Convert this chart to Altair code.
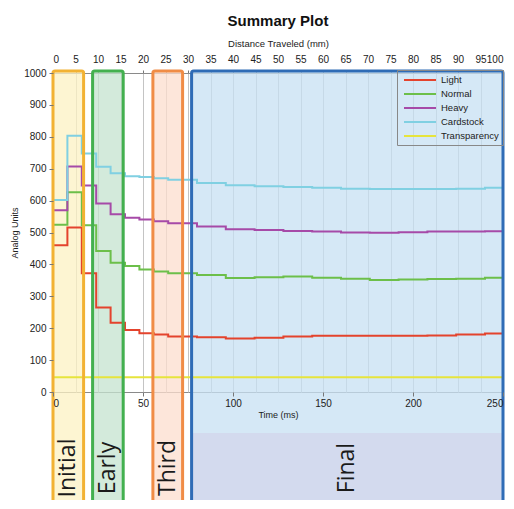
import altair as alt
import pandas as pd

# ---------------- data ----------------
materials = ["Light", "Normal", "Heavy", "Cardstock", "Transparency"]
line_colors = ["#e4432d", "#6cbf4a", "#a64aa8", "#80d0e2", "#e6e43c"]

time_ms = [0, 8, 16, 24, 32, 40, 48, 56, 64, 80, 96, 112, 128, 144, 160,
           176, 192, 208, 224, 240, 250]
light = [460, 516, 372, 265, 217, 194, 184, 180, 174, 172, 168, 170, 174,
         176, 176, 176, 176, 177, 180, 183, 183]
normal = [524, 626, 523, 442, 405, 395, 384, 378, 372, 367, 357, 360, 362,
          358, 355, 351, 353, 354, 355, 358, 358]
heavy = [570, 707, 647, 591, 557, 546, 541, 535, 529, 519, 510, 508, 505,
         503, 500, 499, 501, 503, 503, 504, 504]
cardstock = [602, 803, 748, 706, 686, 676, 674, 670, 665, 655, 648, 645, 643,
             640, 637, 636, 636, 636, 637, 640, 640]
transparency = [46, 46, 46, 46, 46, 46, 46, 46, 46, 46, 46, 46, 46,
                46, 46, 46, 46, 46, 46, 46, 46]

distance_mm = [0, 5, 10, 15, 20, 25, 30, 35, 40, 45, 50, 55, 60, 65, 70,
               75, 80, 85, 90, 95, 100]
time_ticks = [0, 50, 100, 150, 200, 250]
y_ticks = [0, 100, 200, 300, 400, 500, 600, 700, 800, 900, 1000]

region_names = ["Initial", "Early", "Third", "Final"]
region_start = [0, 22, 55.5, 77]
region_end = [17, 39, 72, 250]
region_fill = ["#fcf2c3", "#c4e3cf", "#fcdece", "#c7e0f3"]
region_stroke = ["#f2b233", "#43b04f", "#f08c46", "#2f6cb6"]

# ---------------- tables ----------------
rows = []
for name, vals in zip(materials, [light, normal, heavy, cardstock, transparency]):
    for t, v in zip(time_ms, vals):
        rows.append({"time": t, "value": v, "material": name})
lines_df = pd.DataFrame(rows)

regions_df = pd.DataFrame({
    "label": region_names,
    "start": region_start,
    "end": region_end,
    "mid": [(a + b) / 2 for a, b in zip(region_start, region_end)],
    "fill": region_fill,
    "stroke": region_stroke,
})

W, H = 450, 319
FONT = "Liberation Sans"
x_scale = alt.Scale(domain=[0, 250], nice=False, zero=False)
y_scale = alt.Scale(domain=[0, 1000], nice=False)

mm_in_ms = [d * 2.5 for d in distance_mm]

# fills (carry the top "distance" axis with its grid)
fills = alt.Chart(regions_df).mark_rect(fillOpacity=0.75).encode(
    x=alt.X("start:Q", scale=x_scale,
            axis=alt.Axis(orient="top", values=mm_in_ms,
                          labelExpr="format(datum.value / 2.5, 'd')",
                          title="Distance Traveled (mm)", grid=True,
                          gridColor="#c4c4c4", gridWidth=1, domain=False,
                          tickSize=3, tickColor="#777", labelPadding=6,
                          labelFontSize=10, titleFontSize=9.5,
                          titleFontWeight="normal", titlePadding=6,
                          labelFont=FONT, titleFont=FONT, labelColor="#222",
                          titleColor="#222")),
    x2="end:Q",
    y=alt.value(-2),
    y2=alt.value(H + 115),
    fill=alt.Fill("fill:N", scale=None),
)

final_lower = alt.Chart(regions_df).transform_filter(
    alt.datum.label == "Final"
).mark_rect(fill="#d3daee").encode(
    x=alt.X("start:Q", scale=x_scale, axis=None),
    x2="end:Q",
    y=alt.value(H + 41),
    y2=alt.value(H + 115),
)

lines = alt.Chart(lines_df).mark_line(interpolate="step-after", strokeWidth=2).encode(
    x=alt.X("time:Q", scale=x_scale,
            axis=alt.Axis(orient="bottom", values=time_ticks, title="Time (ms)",
                          grid=False, domain=False, tickSize=4, tickColor="#777",
                          labelPadding=2, labelFontSize=10, titleFontSize=9,
                          titleFontWeight="normal", titlePadding=2,
                          labelFont=FONT, titleFont=FONT, labelColor="#222",
                          titleColor="#222", zindex=2)),
    y=alt.Y("value:Q", scale=y_scale,
            axis=alt.Axis(values=y_ticks, format="d", title="Analog Units",
                          grid=False, domain=False, tickSize=4,
                          tickColor="#777", labelPadding=3, labelFontSize=10,
                          titleFontSize=9, titleFontWeight="normal",
                          titlePadding=4, labelFont=FONT, titleFont=FONT,
                          labelColor="#222", titleColor="#222", zindex=2)),
    color=alt.Color("material:N",
                    scale=alt.Scale(domain=materials, range=line_colors),
                    sort=materials,
                    legend=alt.Legend(title=None, orient="none", legendX=344,
                                      legendY=-3,
                                      symbolType="M-3.2,0H3.2",
                                      symbolSize=100, symbolStrokeWidth=2,
                                      symbolOffset=13,
                                      labelFontSize=9.5, labelFont=FONT,
                                      labelColor="#222", rowPadding=3,
                                      strokeColor="#888", padding=4,
                                      labelOffset=15)),
    detail="material:N",
)

borders = alt.Chart(regions_df).mark_rect(
    fillOpacity=0, strokeWidth=3, cornerRadius=2
).encode(
    x=alt.X("start:Q", scale=x_scale, axis=None),
    x2="end:Q",
    y=alt.value(-2),
    y2=alt.value(H + 115),
    stroke=alt.Stroke("stroke:N", scale=None),
)

labels = alt.Chart(regions_df).mark_text(
    angle=270, fontSize=23, font="Open Sans", color="#1a1a1a",
    align="center", baseline="middle"
).encode(
    x=alt.X("mid:Q", scale=x_scale, axis=None),
    y=alt.value(H + 76),
    text="label:N",
)

chart = alt.layer(fills, final_lower, lines, borders, labels).resolve_axis(
    x="independent"
).properties(
    width=W, height=H,
    title=alt.TitleParams("Summary Plot", fontSize=15, fontWeight="bold",
                          font=FONT, anchor="middle", color="#111", offset=9),
    autosize=alt.AutoSizeParams(type="none"),
    padding={"left": 45, "top": 65, "right": 3, "bottom": 108},
).configure_view(stroke="#8a8a8a", strokeWidth=1)

chart.save("out.html", embed_options={"renderer": "svg", "actions": False})
